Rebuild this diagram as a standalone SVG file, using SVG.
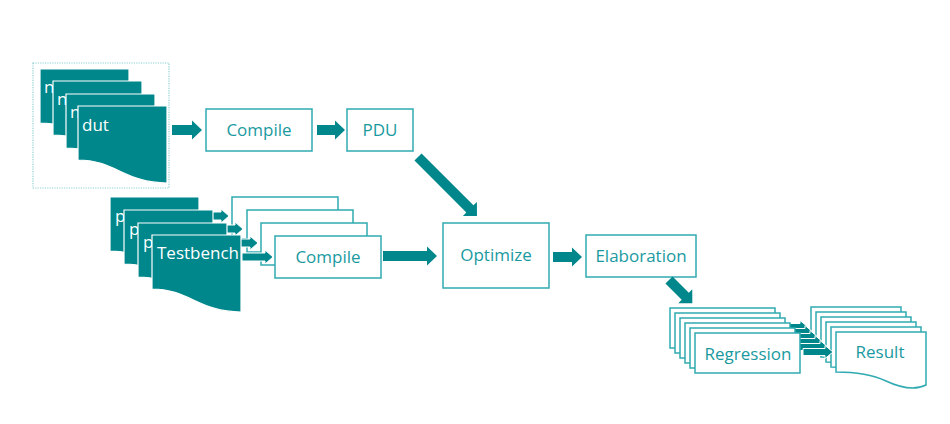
<svg xmlns="http://www.w3.org/2000/svg" width="950" height="424" viewBox="0 0 950 424">
<style>
.doc{fill:#00878C;stroke:#ffffff;stroke-width:1.2}
.box{fill:#ffffff;stroke:#2FAAB0;stroke-width:1.5}
.rdoc{fill:#ffffff;stroke:#2FAAB0;stroke-width:1.5}
.arr{fill:#00878C}
.sa{fill:#00878C;stroke:#ffffff;stroke-width:1}
.lbl{font-family:"Open Sans","DejaVu Sans",sans-serif;font-size:17px;fill:#1A9A9F;text-anchor:middle}
.wl{font-family:"Open Sans","DejaVu Sans",sans-serif;font-size:17px;fill:#ffffff}
.frame{fill:none;stroke:#8CCFD2;stroke-width:1.2;stroke-dasharray:1.2 1.2}
</style>
<defs>
<path id="tdoc" d="M0,0 H89 V77 C47,77 37,54 0,54 Z"/>
<path id="rd" d="M0,0 H90 V53 C80,58 65,56 50,49 C35,42 18,40 0,40 Z"/>
<path id="sarr" d="M0,-4 H23 V-7 L31,0 L23,7 V4 H0 Z"/>
<path id="rarr" d="M0,-3.5 H22 V-6.5 L30,0 L22,6.5 V3.5 H0 Z"/>
</defs>
<rect width="950" height="424" fill="#ffffff"/>

<g id="dut-stack">
<rect class="frame" x="33" y="63" width="136" height="125"/>
<use href="#tdoc" class="doc" x="40" y="69"/>
<text class="wl" x="44" y="93">n</text>
<use href="#tdoc" class="doc" x="53" y="81"/>
<text class="wl" x="57" y="105">n</text>
<use href="#tdoc" class="doc" x="66" y="94"/>
<text class="wl" x="70" y="118">n</text>
<use href="#tdoc" class="doc" x="78" y="106"/>
<text class="wl" x="82" y="131">dut</text>
</g>

<g id="compile1">
<rect class="box" x="206" y="109" width="106" height="42"/>
<text class="lbl" x="259" y="136">Compile</text>
</g>

<g id="pdu">
<rect class="box" x="347" y="109" width="66" height="42"/>
<text class="lbl" x="380" y="136">PDU</text>
</g>

<g id="testbench-stack">
<use href="#tdoc" class="doc" x="110" y="197"/>
<text class="wl" x="115" y="222">p</text>
<use href="#sarr" class="sa" x="198" y="216"/>
<rect class="box" x="232" y="197" width="106" height="42"/>
<use href="#tdoc" class="doc" x="124" y="210"/>
<text class="wl" x="129" y="235">p</text>
<use href="#sarr" class="sa" x="212" y="229"/>
<rect class="box" x="247" y="210" width="106" height="42"/>
<use href="#tdoc" class="doc" x="138" y="223"/>
<text class="wl" x="143" y="248">p</text>
<use href="#sarr" class="sa" x="227" y="243"/>
<rect class="box" x="261" y="223" width="106" height="42"/>
<use href="#tdoc" class="doc" x="152" y="235"/>
<text class="wl" x="157" y="259">Testbench</text>
<use href="#sarr" class="sa" x="242" y="257"/>
</g>

<g id="compile2">
<rect class="box" x="275" y="236" width="106" height="42"/>
<text class="lbl" x="328" y="263">Compile</text>
</g>

<g id="optimize">
<rect class="box" x="443" y="223" width="106" height="65"/>
<text class="lbl" x="496" y="261">Optimize</text>
</g>

<g id="elaboration">
<rect class="box" x="586" y="235" width="110" height="42"/>
<text class="lbl" x="641" y="262">Elaboration</text>
</g>

<g id="regression-result">
<rect class="box" x="670" y="308" width="105" height="40"/>
<use href="#rarr" class="sa" x="778" y="327"/>
<use href="#rd" class="rdoc" x="811" y="307"/>
<rect class="box" x="675" y="313" width="105" height="40"/>
<use href="#rarr" class="sa" x="783" y="332"/>
<use href="#rd" class="rdoc" x="816" y="312"/>
<rect class="box" x="680" y="318" width="105" height="40"/>
<use href="#rarr" class="sa" x="788" y="337"/>
<use href="#rd" class="rdoc" x="821" y="317"/>
<rect class="box" x="685" y="323" width="105" height="40"/>
<use href="#rarr" class="sa" x="793" y="342"/>
<use href="#rd" class="rdoc" x="826" y="322"/>
<rect class="box" x="690" y="328" width="105" height="40"/>
<use href="#rarr" class="sa" x="798" y="347"/>
<use href="#rd" class="rdoc" x="831" y="327"/>
</g>

<g id="regression">
<rect class="box" x="695" y="333" width="105" height="40"/>
<text class="lbl" x="748" y="360">Regression</text>
</g>
<g id="result">
<use href="#rarr" class="sa" x="803" y="352"/>
<use href="#rd" class="rdoc" x="836" y="332"/>
<text class="lbl" x="880" y="358">Result</text>
</g>

<g id="connectors" class="arr">
<path d="M172,125 H192 V120.5 L202,130 L192,139.5 V135 H172 Z"/>
<path d="M317,125 H335 V120.5 L345,130 L335,139.5 V135 H317 Z"/>
<path d="M383,251 H427 V246.5 L437,256 L427,265.5 V261 H383 Z"/>
<path d="M553,252 H572 V247.5 L582,257 L572,266.5 V262 H553 Z"/>
<path transform="translate(418,157) rotate(45)" d="M0,-5 H73.4 V-9.9 L83.4,0 L73.4,9.9 V5 H0 Z"/>
<path transform="translate(669,280) rotate(45)" d="M0,-5 H23 V-9.9 L33,0 L23,9.9 V5 H0 Z"/>
</g>
</svg>
